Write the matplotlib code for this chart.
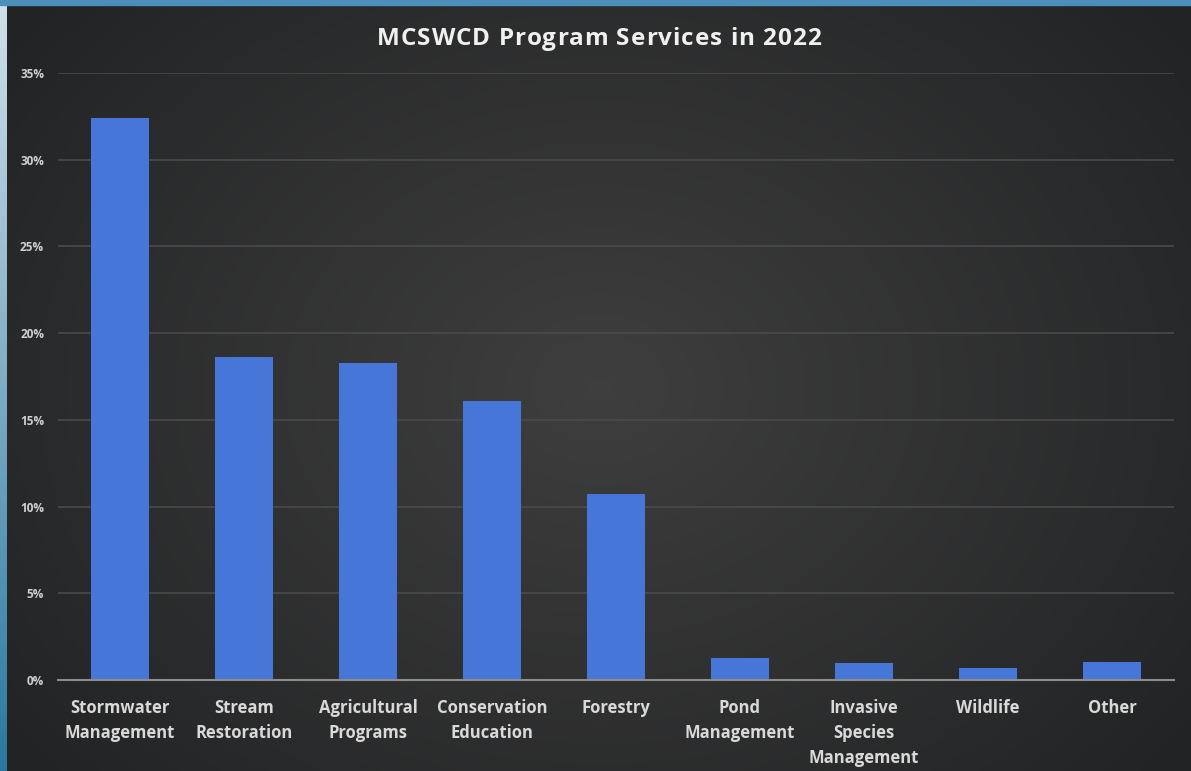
import numpy as np
import matplotlib
matplotlib.use("Agg")
import matplotlib.pyplot as plt
from matplotlib.ticker import PercentFormatter

# Data
categories = ["Stormwater\nManagement", "Stream\nRestoration", "Agricultural\nPrograms",
              "Conservation\nEducation", "Forestry", "Pond\nManagement",
              "Invasive\nSpecies\nManagement", "Wildlife", "Other"]
values = [32.4, 18.6, 18.3, 16.1, 10.7, 1.27, 0.98, 0.69, 1.04]
yticks = [0, 5, 10, 15, 20, 25, 30, 35]
title = "MCSWCD Program Services in 2022"

FONT = ["Open Sans", "DejaVu Sans"]

W, H = 1191, 771
fig = plt.figure(figsize=(W / 100, H / 100), dpi=100)

# Background: blue frame + dark radial gradient panel
bg = fig.add_axes([0, 0, 1, 1], zorder=-10)
bg.set_axis_off()
t = np.linspace(0, 1, 256)[:, None]
top_c = np.array([0.82, 0.88, 0.92])
bot_c = np.array([0.16, 0.47, 0.62])
strip = (top_c * (1 - t) + bot_c * t)[:, None, :]
bg.imshow(strip, extent=[0, 1, 0, 1], aspect="auto", transform=bg.transAxes)
bg.add_patch(plt.Rectangle((0, 1 - 5 / H), 1, 5 / H, color="#4b8fba", transform=bg.transAxes, zorder=2))
ny, nx = 300, 460
yy, xx = np.mgrid[0:ny, 0:nx]
cx, cy = nx * 0.5, ny * 0.5
r = np.sqrt(((xx - cx) / (nx * 0.62)) ** 2 + ((yy - cy) / (ny * 0.75)) ** 2)
r = np.clip(r, 0, 1)
inner = np.array([0.245, 0.245, 0.245])
outer = np.array([0.135, 0.14, 0.145])
panel = inner * (1 - r[..., None]) + outer * r[..., None]
x0 = 7 / W
bg.imshow(panel, extent=[x0, 1, 0, 1 - 5 / H], aspect="auto", transform=bg.transAxes, zorder=1)
bg.set_xlim(0, 1)
bg.set_ylim(0, 1)

# Chart axes
left = 58 / W
right = 1174 / W
bottom = 1 - 680 / H
top = 1 - 73 / H
ax = fig.add_axes([left, bottom, right - left, top - bottom])
ax.patch.set_alpha(0)

x = np.arange(len(categories))
ax.bar(x, values, width=0.46, color="#4677d8", zorder=3)

ax.set_xlim(-0.5, len(categories) - 0.5)
ax.set_ylim(0, 35)
ax.set_yticks(yticks)
ax.yaxis.set_major_formatter(PercentFormatter(decimals=0))
ax.grid(axis="y", color="#4a4a4a", linewidth=1.2, zorder=0)
ax.set_axisbelow(True)

for s in ["top", "right", "left"]:
    ax.spines[s].set_visible(False)
ax.spines["bottom"].set_color("#8c8c8c")
ax.spines["bottom"].set_linewidth(1.5)
ax.spines["bottom"].set_zorder(4)

ax.set_xticks(x)
ax.set_xticklabels(categories, fontsize=12, fontweight="bold", color="#d9d9d9",
                   family=FONT, linespacing=1.5)
ax.tick_params(axis="x", length=0, pad=14)
ax.tick_params(axis="y", length=0, pad=10, labelsize=8.5, labelcolor="#d0d0d0")
for lbl in ax.get_yticklabels():
    lbl.set_fontweight("bold")
    lbl.set_family(FONT)

# Title with letter tracking
tkw = dict(fontsize=17.5, fontweight="bold", color="#f0f0f0", family=FONT)
renderer = fig.canvas.get_renderer()


def text_w(s):
    tt = fig.text(0, 0, s, **tkw)
    wd = tt.get_window_extent(renderer).width
    tt.remove()
    return wd


target_w = 444.0
nat_w = text_w(title)
track = max(0.0, (target_w - nat_w) / (len(title) - 1))
total_w = nat_w + track * (len(title) - 1)
base_w = text_w("H")
start = 599 - total_w / 2
baseline = H - 45
for i, ch in enumerate(title):
    if ch == " ":
        continue
    off = text_w(title[:i] + "H") - base_w if i > 0 else 0.0
    fig.text((start + off + i * track) / W, baseline / H, ch, ha="left", va="baseline", **tkw)

fig.savefig("out.png", dpi=100)
